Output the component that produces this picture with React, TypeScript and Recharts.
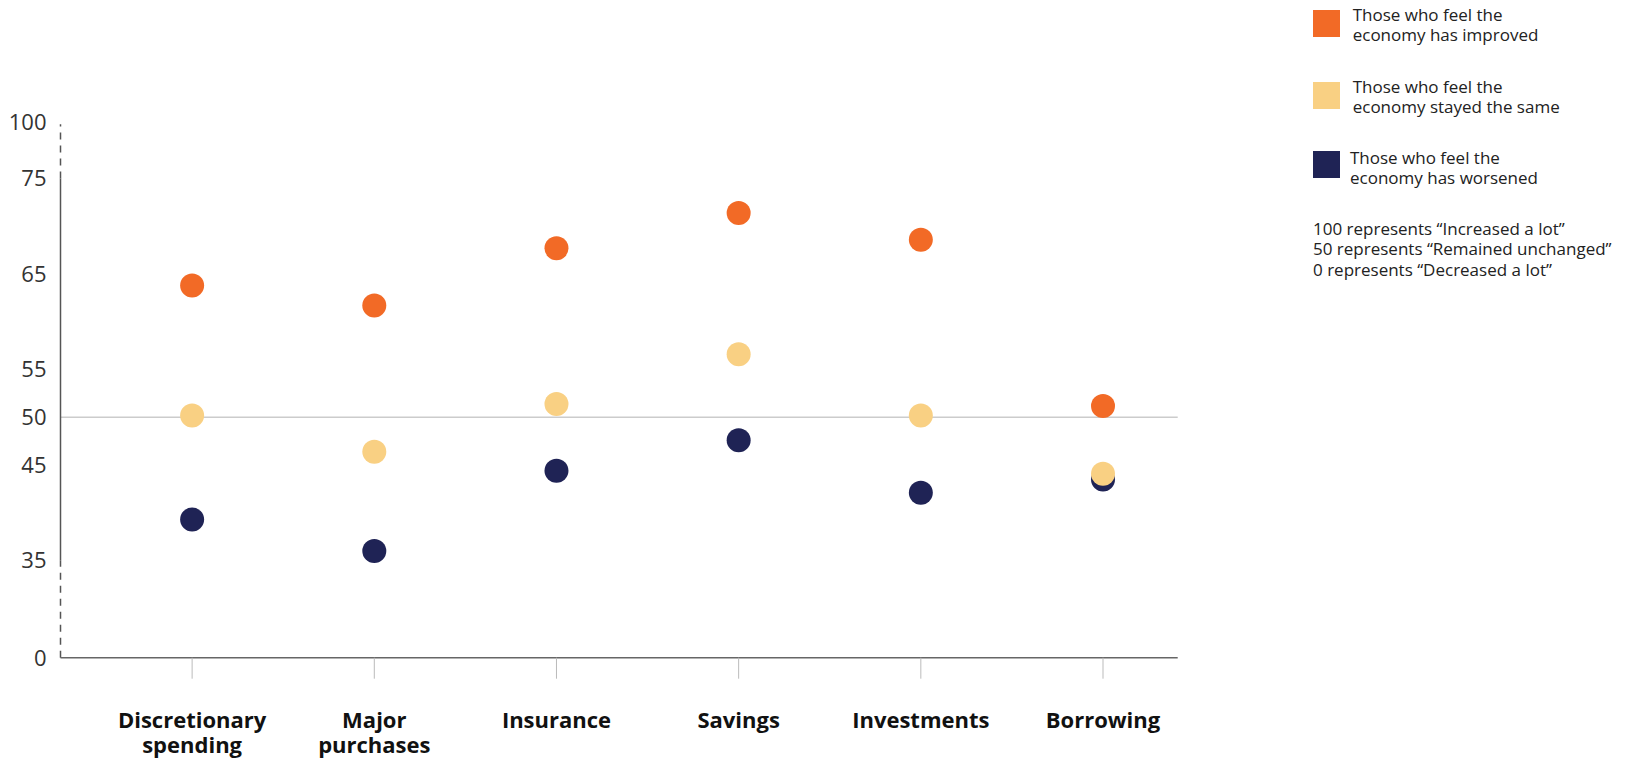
import React from 'react';
import { ScatterChart, Scatter, XAxis, YAxis, ReferenceLine } from 'recharts';

const categoryLines: string[][] = [
  ['Discretionary', 'spending'],
  ['Major', 'purchases'],
  ['Insurance'],
  ['Savings'],
  ['Investments'],
  ['Borrowing'],
];
const improved = [63.8, 61.7, 67.7, 71.4, 68.6, 51.2];
const same = [50.2, 46.4, 51.4, 56.6, 50.2, 44.1];
const worsened = [39.3, 36.0, 44.4, 47.6, 42.1, 43.5];
const yTicks = [0, 35, 45, 50, 55, 65, 75, 100];

const COLORS = { improved: '#F26A26', same: '#F9D083', worsened: '#1F2355' };
const legendItems = [
  { lines: ['Those who feel the', 'economy has improved'], color: COLORS.improved },
  { lines: ['Those who feel the', 'economy stayed the same'], color: COLORS.same },
  { lines: ['Those who feel the', 'economy has worsened'], color: COLORS.worsened },
];
const noteLines = [
  '100 represents \u201CIncreased a lot\u201D',
  '50 represents \u201CRemained unchanged\u201D',
  '0 represents \u201CDecreased a lot\u201D',
];

// broken axis: 0-35 and 75-100 compressed
const LOW_SPAN = 10.16;
const HIGH_SPAN = 5.92;
const warp = (v: number) =>
  v <= 35 ? 35 - LOW_SPAN + (v * LOW_SPAN) / 35 : v >= 75 ? 75 + ((v - 75) * HIGH_SPAN) / 25 : v;
const unwarpLabel = (t: number) => {
  let best = yTicks[0];
  yTicks.forEach((v) => {
    if (Math.abs(warp(v) - t) < Math.abs(warp(best) - t)) best = v;
  });
  return String(best);
};

const toPoints = (arr: number[]) => arr.map((v, i) => ({ x: i, y: warp(v), value: v }));

const FONT = '"Open Sans", "Noto Sans", sans-serif';
const X_MIN = -0.7225;
const X_MAX = 5.41;

const dot = (color: string) => (props: any) => (
  <circle cx={props.cx} cy={props.cy} r={12} fill={color} />
);

const XTick = (props: any) => {
  const { x, y, payload } = props;
  const lines = categoryLines[payload.value] || [];
  return (
    <text x={x} textAnchor="middle" fontFamily={FONT} fontWeight={700} fontSize={22} fill="#111">
      {lines.map((l, i) => (
        <tspan key={i} x={x} y={y + 49 + i * 25}>
          {l}
        </tspan>
      ))}
    </text>
  );
};

export default function App() {
  return (
    <div style={{ position: 'relative', width: 1637, height: 760, background: '#fff' }}>
      <style>{`body{margin:0}`}</style>
      <ScatterChart
        width={1637}
        height={760}
        margin={{ top: 122, right: 459.3, bottom: 22.3, left: 0.5 }}
      >
        <XAxis
          type="number"
          dataKey="x"
          domain={[X_MIN, X_MAX]}
          ticks={[0, 1, 2, 3, 4, 5]}
          interval={0}
          allowDataOverflow
          height={80}
          tickSize={21}
          tickMargin={0}
          axisLine={{ stroke: '#666', strokeWidth: 1.5 }}
          tickLine={{ stroke: '#bbb', strokeWidth: 1 }}
          tick={<XTick />}
        />
        <YAxis
          type="number"
          dataKey="y"
          width={60}
          domain={[warp(0), warp(100)]}
          ticks={yTicks.map(warp)}
          interval={0}
          allowDataOverflow
          axisLine={false}
          tickLine={false}
          tickSize={6}
          tickMargin={8}
          tickFormatter={unwarpLabel}
          tick={{ fontFamily: FONT, fontSize: 22, fill: '#333' }}
        />
        <ReferenceLine y={warp(50)} stroke="#ccc" strokeWidth={1.5} />
        <ReferenceLine
          segment={[{ x: X_MIN, y: warp(35) }, { x: X_MIN, y: warp(75) }]}
          stroke="#555"
          strokeWidth={1.5}
        />
        <ReferenceLine
          segment={[{ x: X_MIN, y: warp(0) }, { x: X_MIN, y: warp(35) }]}
          stroke="#555"
          strokeWidth={1.5}
          strokeDasharray="7 6"
        />
        <ReferenceLine
          segment={[{ x: X_MIN, y: warp(75) }, { x: X_MIN, y: warp(99) }]}
          stroke="#555"
          strokeWidth={1.5}
          strokeDasharray="7 6"
        />
        <Scatter name="improved" data={toPoints(improved)} shape={dot(COLORS.improved)} isAnimationActive={false} />
        <Scatter name="worsened" data={toPoints(worsened)} shape={dot(COLORS.worsened)} isAnimationActive={false} />
        <Scatter name="same" data={toPoints(same)} shape={dot(COLORS.same)} isAnimationActive={false} />
      </ScatterChart>
      {legendItems.map((it, i) => {
        const tops = [10, 82, 151];
        const textTops = [5.2, 76.8, 147.5];
        const textLeft = [1352.7, 1352.7, 1350];
        return (
          <React.Fragment key={i}>
            <div
              style={{
                position: 'absolute',
                left: 1313,
                top: tops[i],
                width: 27,
                height: 27,
                background: it.color,
              }}
            />
            <div
              style={{
                position: 'absolute',
                left: textLeft[i],
                top: textTops[i],
                fontFamily: FONT,
                fontSize: 17,
                lineHeight: '20px',
                color: '#222',
                whiteSpace: 'nowrap',
              }}
            >
              {it.lines.map((l, j) => (
                <div key={j}>{l}</div>
              ))}
            </div>
          </React.Fragment>
        );
      })}
      <div
        style={{
          position: 'absolute',
          left: 1313,
          top: 218.5,
          fontFamily: FONT,
          fontSize: 17,
          lineHeight: '20.5px',
          color: '#222',
          whiteSpace: 'nowrap',
        }}
      >
        {noteLines.map((l, j) => (
          <div key={j}>{l}</div>
        ))}
      </div>
    </div>
  );
}
